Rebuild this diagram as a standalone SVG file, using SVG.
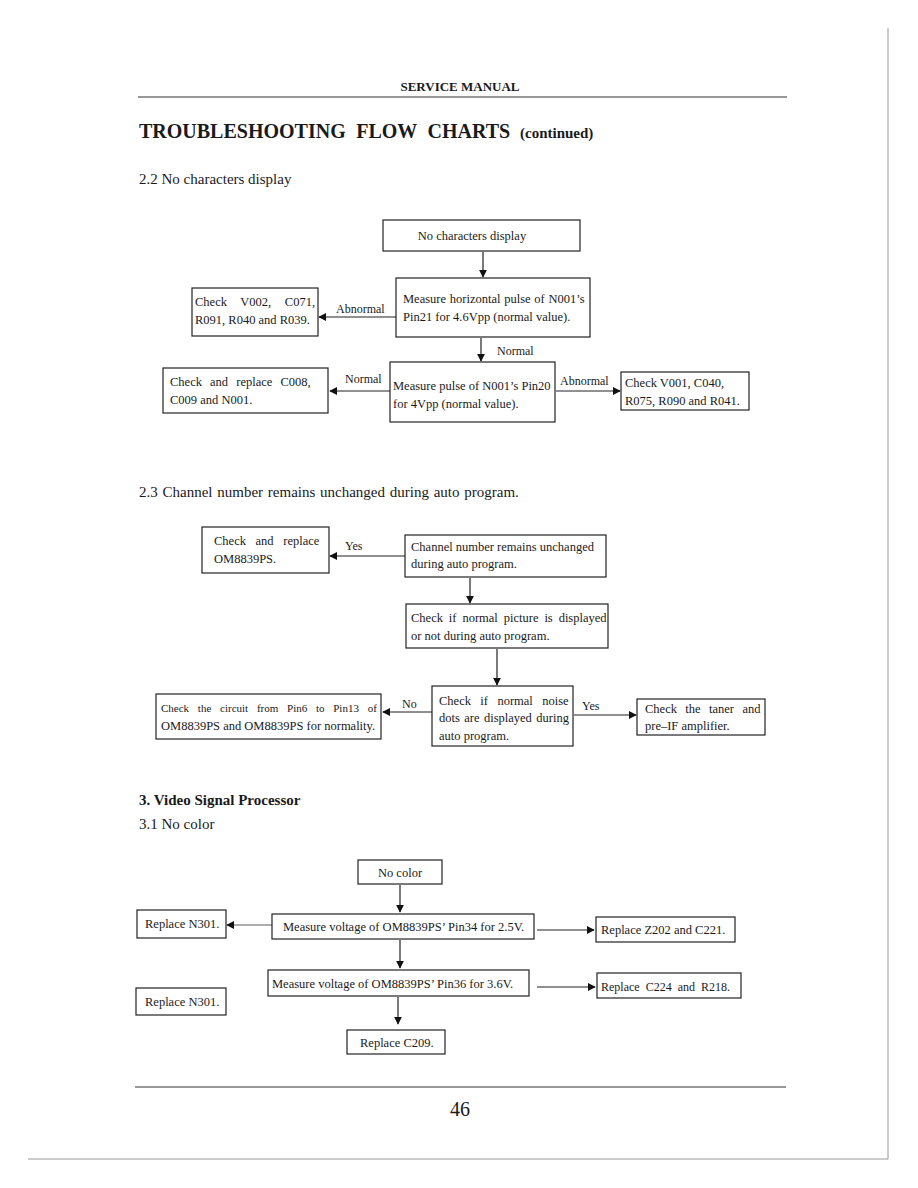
<svg xmlns="http://www.w3.org/2000/svg" width="918" height="1188" viewBox="0 0 918 1188">
<style>
text{font-family:"Liberation Serif","Times New Roman",serif;fill:#1a1a1a}
.t{font-size:12.5px}
.s{font-size:11px}
.lbl{font-size:12px}
.box{fill:#fff;stroke:#222;stroke-width:1.2}
.ln{stroke:#222;stroke-width:1.2;fill:none}
.thin{stroke:#333;stroke-width:0.8;fill:none}
.h{font-size:15px}
</style>
<defs>
<marker id="ah" viewBox="0 0 10 10" refX="9" refY="5" markerWidth="8" markerHeight="8" markerUnits="userSpaceOnUse" orient="auto">
<path d="M0,0 L10,5 L0,10 Z" fill="#111"/>
</marker>
</defs>
<rect width="918" height="1188" fill="#fff"/>
<g id="page">
<line x1="888" y1="28" x2="888" y2="1159" stroke="#999" stroke-width="1"/>
<line x1="28" y1="1159" x2="888" y2="1159" stroke="#999" stroke-width="1"/>
<text x="460" y="91" text-anchor="middle" style="font-size:13px;font-weight:bold">SERVICE MANUAL</text>
<line x1="138" y1="97" x2="787" y2="97" stroke="#333" stroke-width="1"/>
<text x="139" y="138" style="font-size:20px;font-weight:bold;word-spacing:5.5px">TROUBLESHOOTING FLOW CHARTS</text>
<text x="520" y="138" style="font-size:15px;font-weight:bold">(continued)</text>
<text x="139" y="184" class="h">2.2 No characters display</text>
<text x="139" y="497" class="h" style="word-spacing:1px">2.3 Channel number remains unchanged during auto program.</text>
<text x="139" y="805" style="font-size:15px;font-weight:bold">3. Video Signal Processor</text>
<text x="139" y="829" class="h">3.1 No color</text>
<line x1="135" y1="1087" x2="786" y2="1087" stroke="#333" stroke-width="1"/>
<text x="460" y="1116" text-anchor="middle" style="font-size:20px">46</text>
</g>
<g id="connectors">
<line class="ln" x1="483" y1="252" x2="483" y2="277" marker-end="url(#ah)"/>
<line class="ln" x1="396" y1="317" x2="319" y2="317" marker-end="url(#ah)"/>
<text x="336" y="313" class="lbl">Abnormal</text>
<line class="ln" x1="481" y1="338" x2="481" y2="361" marker-end="url(#ah)"/>
<text x="497" y="355" class="lbl">Normal</text>
<line class="ln" x1="390" y1="391" x2="330" y2="391" marker-end="url(#ah)"/>
<text x="345" y="383" class="lbl">Normal</text>
<line class="ln" x1="556" y1="391" x2="620" y2="391" marker-end="url(#ah)"/>
<text x="560" y="385" class="lbl">Abnormal</text>
<line class="ln" x1="405" y1="556" x2="330" y2="556" marker-end="url(#ah)"/>
<text x="345" y="550" class="lbl">Yes</text>
<line class="ln" x1="470" y1="578" x2="470" y2="603" marker-end="url(#ah)"/>
<line class="ln" x1="497" y1="649" x2="497" y2="685" marker-end="url(#ah)"/>
<line class="ln" x1="432" y1="712" x2="383" y2="712" marker-end="url(#ah)"/>
<text x="402" y="708" class="lbl">No</text>
<line class="ln" x1="574" y1="715" x2="636" y2="715" marker-end="url(#ah)"/>
<text x="582" y="710" class="lbl">Yes</text>
<line class="ln" x1="400" y1="885" x2="400" y2="912" marker-end="url(#ah)"/>
<line class="thin" x1="272" y1="925" x2="227" y2="925" marker-end="url(#ah)"/>
<line class="ln" x1="537" y1="930" x2="594" y2="930" marker-end="url(#ah)"/>
<line class="ln" x1="400" y1="940" x2="400" y2="968" marker-end="url(#ah)"/>
<line class="ln" x1="537" y1="987" x2="595" y2="987" marker-end="url(#ah)"/>
<line class="ln" x1="398" y1="997" x2="398" y2="1024" marker-end="url(#ah)"/>
</g>
<g id="n1"><rect class="box" x="383" y="220" width="197" height="31"/><text x="472" y="240" class="t" text-anchor="middle">No characters display</text></g>
<g id="n2"><rect class="box" x="396" y="278" width="194" height="59"/><text x="403" y="303" class="t" style="word-spacing:0.6px">Measure horizontal pulse of N001’s</text><text x="403" y="321" class="t">Pin21 for 4.6Vpp (normal value).</text></g>
<g id="n3"><rect class="box" x="192" y="288" width="126" height="48"/><text x="195" y="306" class="t" style="word-spacing:10.5px">Check V002, C071,</text><text x="195" y="324" class="t">R091, R040 and R039.</text></g>
<g id="n4"><rect class="box" x="390" y="362" width="165" height="60"/><text x="393" y="390" class="t">Measure pulse of N001’s Pin20</text><text x="393" y="408" class="t">for 4Vpp (normal value).</text></g>
<g id="n5"><rect class="box" x="163" y="368" width="165" height="45"/><text x="170" y="386" class="t" style="word-spacing:5px">Check and replace C008,</text><text x="170" y="404" class="t">C009 and N001.</text></g>
<g id="n6"><rect class="box" x="621" y="372" width="128" height="38"/><text x="625" y="387" class="t">Check V001, C040,</text><text x="625" y="405" class="t">R075, R090 and R041.</text></g>
<g id="n7"><rect class="box" x="202" y="527" width="127" height="46"/><text x="214" y="545" class="t" style="word-spacing:6.5px">Check and replace</text><text x="214" y="563" class="t">OM8839PS.</text></g>
<g id="n8"><rect class="box" x="405" y="535" width="201" height="42"/><text x="411" y="551" class="t">Channel number remains unchanged</text><text x="411" y="568" class="t">during auto program.</text></g>
<g id="n9"><rect class="box" x="406" y="604" width="202" height="44"/><text x="411" y="622" class="t" style="word-spacing:2.8px">Check if normal picture is displayed</text><text x="411" y="640" class="t">or not during auto program.</text></g>
<g id="n10"><rect class="box" x="432" y="686" width="141" height="60"/><text x="439" y="705" class="t" style="word-spacing:6.3px">Check if normal noise</text><text x="439" y="722" class="t" style="word-spacing:1.3px">dots are displayed during</text><text x="439" y="740" class="t">auto program.</text></g>
<g id="n11"><rect class="box" x="156" y="694" width="225" height="45"/><text x="161" y="712" class="s" style="word-spacing:6px">Check the circuit from Pin6 to Pin13 of</text><text x="161" y="730" class="t">OM8839PS and OM8839PS for normality.</text></g>
<g id="n12"><rect class="box" x="637" y="699" width="128" height="36"/><text x="645" y="713" class="t" style="word-spacing:5.3px">Check the taner and</text><text x="645" y="730" class="t">pre–IF amplifier.</text></g>
<g id="n13"><rect class="box" x="358" y="860" width="84" height="24"/><text x="400" y="877" class="t" text-anchor="middle">No color</text></g>
<g id="n14"><rect class="box" x="272" y="914" width="262" height="25"/><text x="283" y="931" class="t">Measure voltage of OM8839PS’ Pin34 for 2.5V.</text></g>
<g id="n15"><rect class="box" x="137" y="910" width="89" height="28"/><text x="145" y="928" class="t">Replace N301.</text></g>
<g id="n16"><rect class="box" x="596" y="917" width="139" height="25"/><text x="601" y="934" class="t">Replace Z202 and C221.</text></g>
<g id="n17"><rect class="box" x="268" y="970" width="261" height="26"/><text x="272" y="988" class="t">Measure voltage of OM8839PS’ Pin36 for 3.6V.</text></g>
<g id="n18"><rect class="box" x="597" y="973" width="144" height="25"/><text x="601" y="991" class="lbl" style="word-spacing:3px">Replace C224 and R218.</text></g>
<g id="n19"><rect class="box" x="136" y="988" width="90" height="27"/><text x="145" y="1006" class="t">Replace N301.</text></g>
<g id="n20"><rect class="box" x="347" y="1030" width="98" height="24"/><text x="360" y="1047" class="t">Replace C209.</text></g>
</svg>
